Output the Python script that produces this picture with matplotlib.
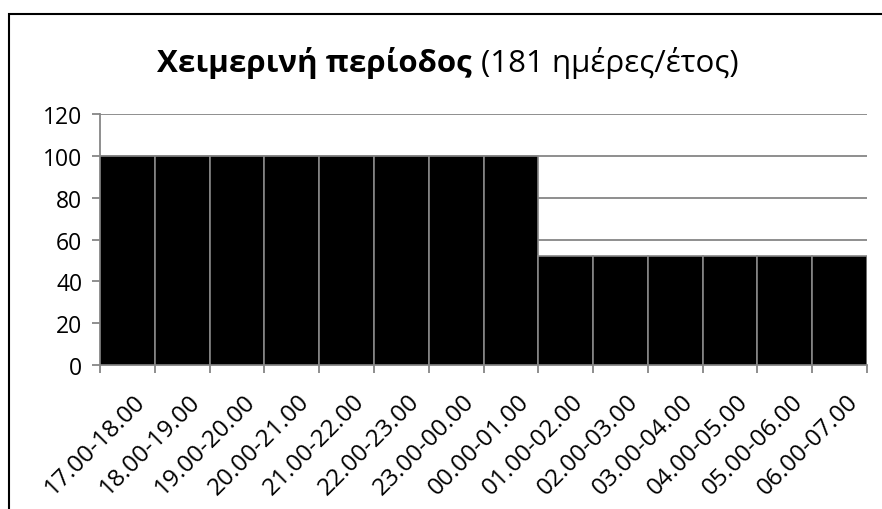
import matplotlib
matplotlib.use("Agg")
import matplotlib.pyplot as plt
from matplotlib.patches import Rectangle

plt.rcParams["font.family"] = ["Open Sans", "DejaVu Sans"]

labels = ["17.00-18.00", "18.00-19.00", "19.00-20.00", "20.00-21.00",
          "21.00-22.00", "22.00-23.00", "23.00-00.00", "00.00-01.00",
          "01.00-02.00", "02.00-03.00", "03.00-04.00", "04.00-05.00",
          "05.00-06.00", "06.00-07.00"]
values = [100, 100, 100, 100, 100, 100, 100, 100, 52, 52, 52, 52, 52, 52]
y_ticks = [0, 20, 40, 60, 80, 100, 120]

W, H = 882, 510
fig = plt.figure(figsize=(W / 100, H / 100), dpi=100)
ax = fig.add_axes([100 / W, 1 - 366 / H, 767 / W, 251 / H])

grid_col = "#868686"
n = len(values)
ax.bar(range(n), values, width=1.0, align="edge", color="black",
       edgecolor=grid_col, linewidth=1.2, zorder=3)

ax.set_xlim(0, n)
ax.set_ylim(0, 120)
ax.set_yticks(y_ticks)
ax.yaxis.grid(True, color=grid_col, linewidth=1.3, zorder=0)
ax.set_xticks(range(n + 1))
ax.set_xticklabels([])

# rotated category labels, ending near the centre of each bar
for i in range(n):
    ax.annotate(labels[i], xy=(i + 0.5, 0), xycoords="data",
                xytext=(6, -24), textcoords="offset pixels",
                rotation=45, ha="right", va="top", rotation_mode="anchor",
                fontsize=17.5, annotation_clip=False)

for s in ["top", "right"]:
    ax.spines[s].set_visible(False)
for s in ["left", "bottom"]:
    ax.spines[s].set_color(grid_col)
    ax.spines[s].set_linewidth(1.3)
ax.tick_params(axis="both", colors=grid_col, length=5.8, width=1.3,
               labelcolor="black", labelsize=16.5)
ax.tick_params(axis="y", pad=7)

# outer chart frame
fig.patches.append(Rectangle((9 / W, -0.1), 1.1, 1 - 15 / H + 0.1,
                             transform=fig.transFigure, fill=False,
                             edgecolor="black", linewidth=1.5))

t1 = fig.text(157 / W, 1 - 72 / H, "Χειμερινή περίοδος", fontsize=22.5,
              fontweight="bold", va="baseline", ha="left")
fig.canvas.draw()
bb = t1.get_window_extent()
fig.text((bb.x1 + 9) / W, 1 - 72 / H, "(181 ημέρες/έτος)", fontsize=22.5,
         va="baseline", ha="left")

fig.savefig("out.png", dpi=100)
